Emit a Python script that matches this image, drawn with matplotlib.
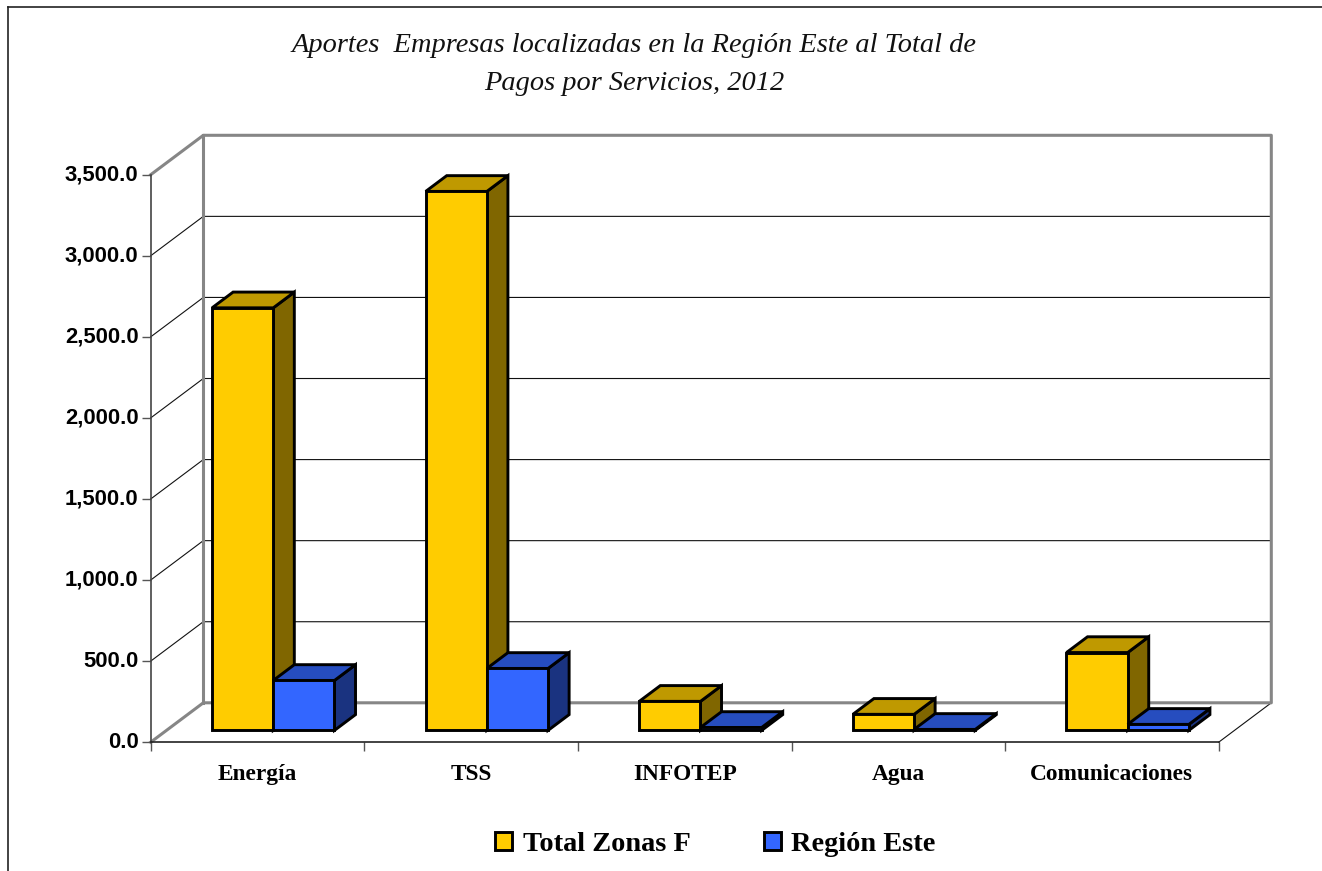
import matplotlib
matplotlib.use("Agg")
import matplotlib.pyplot as plt
from matplotlib.patches import Patch, Polygon
from matplotlib.lines import Line2D

categories = ["Energía", "TSS", "INFOTEP", "Agua", "Comunicaciones"]
total_zonas = [2606, 3324, 179, 99, 480]
region_este = [308, 382, 18, 6, 37]
series_names = ["Total Zonas F", "Región Este"]
y_ticks = [0, 500, 1000, 1500, 2000, 2500, 3000, 3500]
title = "Aportes  Empresas localizadas en la Región Este al Total de\nPagos por Servicios, 2012"

W, H = 1322, 871
fig = plt.figure(figsize=(W / 100, H / 100), dpi=100, facecolor="white")

# figure frame: top and left only
fig.add_artist(Line2D([8.3 / W, 8.3 / W], [0, 1 - 7.5 / H], color="#222222", lw=1.2))
fig.add_artist(Line2D([8.3 / W, 1], [1 - 7.5 / H, 1 - 7.5 / H], color="#222222", lw=1.2))

ax = fig.add_axes([150.7 / W, 1 - 742.2 / H, 1068 / W, 567.5 / H])
ax.set_xlim(0, 5)
ax.set_ylim(0, 3500)
ax.patch.set_visible(False)

DX = 52.6 / 213.6   # wall depth in category units
DY = 39.4 / (567.5 / 3500)  # wall depth in value units
BAR_W = 61.2 / 213.6
FRONT, BACK = 0.3, 0.7
GRAY = "#868686"


def pt(x, y, d):
    return (x + d * DX, y + d * DY)


def line(pts, **kw):
    ax.add_line(Line2D([p[0] for p in pts], [p[1] for p in pts], clip_on=False,
                       solid_capstyle="projecting", **kw))


# walls and grid
for v in y_ticks[1:-1]:
    line([pt(0, v, 0), pt(0, v, 1), pt(5, v, 1)], color="#111111", lw=0.8, zorder=1)
line([pt(5, 0, 0), pt(5, 0, 1)], color="#111111", lw=0.8, zorder=1)
line([pt(0, 3500, 0), pt(0, 3500, 1), pt(5, 3500, 1), pt(5, 0, 1), pt(0, 0, 1), pt(0, 0, 0)],
     color=GRAY, lw=2.2, zorder=1.5)
line([pt(0, 0, 1), pt(0, 3500, 1)], color=GRAY, lw=2.2, zorder=1.5)


def bar(x, v, front, top, side, z):
    x1 = x + BAR_W
    kw = dict(edgecolor="black", lw=2.1, joinstyle="miter", clip_on=False, zorder=z)
    ax.add_patch(Polygon([pt(x1, 0, FRONT), pt(x1, 0, BACK), pt(x1, v, BACK), pt(x1, v, FRONT)],
                         facecolor=side, **kw))
    ax.add_patch(Polygon([pt(x, v, FRONT), pt(x, v, BACK), pt(x1, v, BACK), pt(x1, v, FRONT)],
                         facecolor=top, **kw))
    ax.add_patch(Polygon([pt(x, 0, FRONT), pt(x1, 0, FRONT), pt(x1, v, FRONT), pt(x, v, FRONT)],
                         facecolor=front, **kw))


for i in range(len(categories)):
    bar(i + 0.5 - BAR_W, total_zonas[i], "#FFCC00", "#BF9900", "#806600", 3 + i * 0.1)
    bar(i + 0.5, region_este[i], "#3366FF", "#264DBF", "#1A3380", 3.05 + i * 0.1)

# axes
for s in ("top", "right"):
    ax.spines[s].set_visible(False)
ax.spines["left"].set_color("#444444")
ax.spines["left"].set_linewidth(1.2)
ax.spines["bottom"].set_color("#222222")
ax.spines["bottom"].set_linewidth(1.2)
ax.set_yticks(y_ticks)
ax.set_yticklabels([f"{v:,.1f}" for v in y_ticks], family="Liberation Sans",
                   fontweight="bold", fontsize=15.9, color="black", va="center")
ax.tick_params(axis="y", length=6.5, width=1, color="#555555", pad=2.3)
ax.set_xticks(range(6))
ax.set_xticklabels([""] * 6)
ax.tick_params(axis="x", length=6.5, width=1, color="#555555")
ax.set_xticks([i + 0.5 for i in range(len(categories))], minor=True)
ax.set_xticklabels(categories, minor=True, family="Liberation Serif", fontweight="bold",
                   fontsize=16.8, color="black")
ax.tick_params(axis="x", which="minor", length=0, pad=16)

fig.text(634 / W, 1 - 64.5 / H, title, family="Liberation Serif", style="italic",
         fontsize=20.4, ha="center", va="center", color="#111111", linespacing=1.66)

handles = [Patch(facecolor="#FFCC00", edgecolor="black", lw=2.1),
           Patch(facecolor="#3366FF", edgecolor="black", lw=2.1)]
fig.legend(handles, series_names, loc="center", bbox_to_anchor=(715.5 / W, 1 - 844 / H),
           ncol=2, frameon=False, handlelength=0.6, handleheight=0.6, handletextpad=0.36,
           columnspacing=2.6, borderpad=0,
           prop={"family": "Liberation Serif", "weight": "bold", "size": 20.4})

fig.savefig("out.png", dpi=100)
